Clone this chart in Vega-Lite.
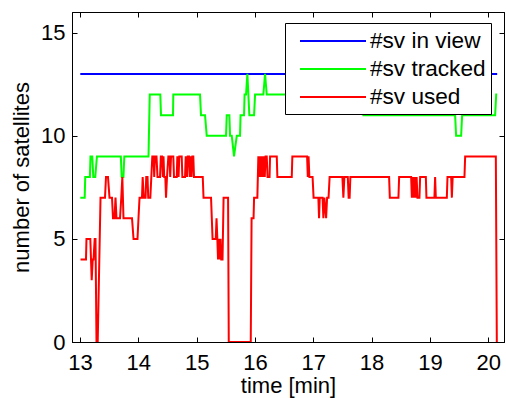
{
"$schema": "https://vega.github.io/schema/vega-lite/v6.json",
"width": 432, "height": 330,
"autosize": {"type": "none"},
"padding": {"left": 72, "top": 12, "right": 2, "bottom": 56},
"background": "white",
"config": {
  "font": "Liberation Sans",
  "view": {"stroke": "black", "strokeWidth": 1},
  "axis": {"grid": false, "labelFontSize": 22, "labelColor": "black", "titleFontSize": 22, "titleFontWeight": "normal", "titleColor": "black", "domainColor": "black", "tickColor": "black", "tickSize": -5, "labelFont": "Liberation Sans", "titleFont": "Liberation Sans", "labelFlush": false, "labelOverlap": false}
},
"datasets": {
"d": [
{"s":"#sv in view","t":13.005,"n":13},{"s":"#sv in view","t":20.153,"n":13},
{"s":"#sv tracked","t":13.005,"n":7},{"s":"#sv tracked","t":13.081,"n":7},{"s":"#sv tracked","t":13.09,"n":8},{"s":"#sv tracked","t":13.17,"n":8},{"s":"#sv tracked","t":13.18,"n":9},{"s":"#sv tracked","t":13.21,"n":9},{"s":"#sv tracked","t":13.228,"n":8},{"s":"#sv tracked","t":13.262,"n":8},{"s":"#sv tracked","t":13.29,"n":9},{"s":"#sv tracked","t":13.70,"n":9},{"s":"#sv tracked","t":13.715,"n":8},{"s":"#sv tracked","t":13.745,"n":8},{"s":"#sv tracked","t":13.76,"n":9},{"s":"#sv tracked","t":14.175,"n":9},{"s":"#sv tracked","t":14.196,"n":12},{"s":"#sv tracked","t":14.377,"n":12},{"s":"#sv tracked","t":14.389,"n":11},{"s":"#sv tracked","t":14.595,"n":11},{"s":"#sv tracked","t":14.600,"n":12},{"s":"#sv tracked","t":15.058,"n":12},{"s":"#sv tracked","t":15.075,"n":11},{"s":"#sv tracked","t":15.144,"n":11},{"s":"#sv tracked","t":15.173,"n":10},{"s":"#sv tracked","t":15.504,"n":10},{"s":"#sv tracked","t":15.516,"n":11},{"s":"#sv tracked","t":15.561,"n":11},{"s":"#sv tracked","t":15.573,"n":10},{"s":"#sv tracked","t":15.602,"n":10},{"s":"#sv tracked","t":15.641,"n":9},{"s":"#sv tracked","t":15.688,"n":10},{"s":"#sv tracked","t":15.744,"n":10},{"s":"#sv tracked","t":15.753,"n":11},{"s":"#sv tracked","t":15.813,"n":11},{"s":"#sv tracked","t":15.822,"n":12},{"s":"#sv tracked","t":15.847,"n":12},{"s":"#sv tracked","t":15.870,"n":13},{"s":"#sv tracked","t":15.904,"n":11},{"s":"#sv tracked","t":15.985,"n":11},{"s":"#sv tracked","t":16.002,"n":12},{"s":"#sv tracked","t":16.144,"n":12},{"s":"#sv tracked","t":16.173,"n":13},{"s":"#sv tracked","t":16.202,"n":12},{"s":"#sv tracked","t":17.837,"n":12},{"s":"#sv tracked","t":17.859,"n":11},{"s":"#sv tracked","t":19.432,"n":11},{"s":"#sv tracked","t":19.449,"n":10},{"s":"#sv tracked","t":19.535,"n":10},{"s":"#sv tracked","t":19.552,"n":11},{"s":"#sv tracked","t":20.118,"n":11},{"s":"#sv tracked","t":20.136,"n":12},{"s":"#sv tracked","t":20.153,"n":12},
{"s":"#sv used","t":13.009,"n":4},{"s":"#sv used","t":13.103,"n":4},{"s":"#sv used","t":13.111,"n":5},{"s":"#sv used","t":13.177,"n":5},{"s":"#sv used","t":13.201,"n":3},{"s":"#sv used","t":13.218,"n":4},{"s":"#sv used","t":13.232,"n":4},{"s":"#sv used","t":13.252,"n":5},{"s":"#sv used","t":13.266,"n":5},{"s":"#sv used","t":13.283,"n":0},{"s":"#sv used","t":13.304,"n":0},{"s":"#sv used","t":13.352,"n":7},{"s":"#sv used","t":13.429,"n":7},{"s":"#sv used","t":13.446,"n":8},{"s":"#sv used","t":13.480,"n":8},{"s":"#sv used","t":13.506,"n":7},{"s":"#sv used","t":13.549,"n":7},{"s":"#sv used","t":13.566,"n":6},{"s":"#sv used","t":13.592,"n":6},{"s":"#sv used","t":13.609,"n":7},{"s":"#sv used","t":13.626,"n":6},{"s":"#sv used","t":13.686,"n":6},{"s":"#sv used","t":13.708,"n":7},{"s":"#sv used","t":13.726,"n":8},{"s":"#sv used","t":13.746,"n":6},{"s":"#sv used","t":13.892,"n":6},{"s":"#sv used","t":13.918,"n":5},{"s":"#sv used","t":13.986,"n":5},{"s":"#sv used","t":14.003,"n":6},{"s":"#sv used","t":14.021,"n":7},{"s":"#sv used","t":14.063,"n":7},{"s":"#sv used","t":14.075,"n":8},{"s":"#sv used","t":14.093,"n":7},{"s":"#sv used","t":14.124,"n":7},{"s":"#sv used","t":14.136,"n":8},{"s":"#sv used","t":14.158,"n":8},{"s":"#sv used","t":14.170,"n":7},{"s":"#sv used","t":14.206,"n":7},{"s":"#sv used","t":14.223,"n":8},{"s":"#sv used","t":14.240,"n":9},{"s":"#sv used","t":14.261,"n":9},{"s":"#sv used","t":14.273,"n":8},{"s":"#sv used","t":14.286,"n":9},{"s":"#sv used","t":14.312,"n":9},{"s":"#sv used","t":14.329,"n":8},{"s":"#sv used","t":14.372,"n":8},{"s":"#sv used","t":14.386,"n":9},{"s":"#sv used","t":14.407,"n":9},{"s":"#sv used","t":14.420,"n":8},{"s":"#sv used","t":14.432,"n":9},{"s":"#sv used","t":14.444,"n":8},{"s":"#sv used","t":14.463,"n":8},{"s":"#sv used","t":14.475,"n":7},{"s":"#sv used","t":14.492,"n":8},{"s":"#sv used","t":14.515,"n":9},{"s":"#sv used","t":14.535,"n":9},{"s":"#sv used","t":14.547,"n":8},{"s":"#sv used","t":14.561,"n":9},{"s":"#sv used","t":14.600,"n":9},{"s":"#sv used","t":14.612,"n":8},{"s":"#sv used","t":14.659,"n":8},{"s":"#sv used","t":14.669,"n":9},{"s":"#sv used","t":14.690,"n":8},{"s":"#sv used","t":14.703,"n":9},{"s":"#sv used","t":14.744,"n":9},{"s":"#sv used","t":14.755,"n":8},{"s":"#sv used","t":14.801,"n":8},{"s":"#sv used","t":14.813,"n":9},{"s":"#sv used","t":14.835,"n":8},{"s":"#sv used","t":14.847,"n":9},{"s":"#sv used","t":14.870,"n":9},{"s":"#sv used","t":14.882,"n":8},{"s":"#sv used","t":14.895,"n":9},{"s":"#sv used","t":14.913,"n":8},{"s":"#sv used","t":14.926,"n":9},{"s":"#sv used","t":14.943,"n":9},{"s":"#sv used","t":14.955,"n":8},{"s":"#sv used","t":15.105,"n":8},{"s":"#sv used","t":15.118,"n":7},{"s":"#sv used","t":15.247,"n":7},{"s":"#sv used","t":15.273,"n":5},{"s":"#sv used","t":15.328,"n":5},{"s":"#sv used","t":15.341,"n":6},{"s":"#sv used","t":15.355,"n":5},{"s":"#sv used","t":15.367,"n":4},{"s":"#sv used","t":15.384,"n":5},{"s":"#sv used","t":15.396,"n":4},{"s":"#sv used","t":15.410,"n":5},{"s":"#sv used","t":15.422,"n":4},{"s":"#sv used","t":15.444,"n":4},{"s":"#sv used","t":15.462,"n":7},{"s":"#sv used","t":15.539,"n":7},{"s":"#sv used","t":15.551,"n":0},{"s":"#sv used","t":15.928,"n":0},{"s":"#sv used","t":15.942,"n":6},{"s":"#sv used","t":15.976,"n":6},{"s":"#sv used","t":15.985,"n":7},{"s":"#sv used","t":16.041,"n":7},{"s":"#sv used","t":16.058,"n":9},{"s":"#sv used","t":16.079,"n":8},{"s":"#sv used","t":16.093,"n":9},{"s":"#sv used","t":16.110,"n":8},{"s":"#sv used","t":16.122,"n":9},{"s":"#sv used","t":16.139,"n":8},{"s":"#sv used","t":16.151,"n":9},{"s":"#sv used","t":16.168,"n":8},{"s":"#sv used","t":16.182,"n":9},{"s":"#sv used","t":16.202,"n":9},{"s":"#sv used","t":16.216,"n":8},{"s":"#sv used","t":16.250,"n":8},{"s":"#sv used","t":16.259,"n":9},{"s":"#sv used","t":16.374,"n":9},{"s":"#sv used","t":16.384,"n":8},{"s":"#sv used","t":16.631,"n":8},{"s":"#sv used","t":16.641,"n":9},{"s":"#sv used","t":16.894,"n":9},{"s":"#sv used","t":16.906,"n":8},{"s":"#sv used","t":16.919,"n":9},{"s":"#sv used","t":16.933,"n":8},{"s":"#sv used","t":16.988,"n":8},{"s":"#sv used","t":17.005,"n":7},{"s":"#sv used","t":17.087,"n":7},{"s":"#sv used","t":17.099,"n":6},{"s":"#sv used","t":17.111,"n":7},{"s":"#sv used","t":17.159,"n":7},{"s":"#sv used","t":17.173,"n":6},{"s":"#sv used","t":17.190,"n":7},{"s":"#sv used","t":17.220,"n":6},{"s":"#sv used","t":17.237,"n":7},{"s":"#sv used","t":17.262,"n":7},{"s":"#sv used","t":17.280,"n":8},{"s":"#sv used","t":17.499,"n":8},{"s":"#sv used","t":17.516,"n":7},{"s":"#sv used","t":17.533,"n":8},{"s":"#sv used","t":17.592,"n":8},{"s":"#sv used","t":17.606,"n":7},{"s":"#sv used","t":17.623,"n":7},{"s":"#sv used","t":17.636,"n":8},{"s":"#sv used","t":18.300,"n":8},{"s":"#sv used","t":18.312,"n":7},{"s":"#sv used","t":18.460,"n":7},{"s":"#sv used","t":18.472,"n":8},{"s":"#sv used","t":18.678,"n":8},{"s":"#sv used","t":18.690,"n":7},{"s":"#sv used","t":18.707,"n":8},{"s":"#sv used","t":18.720,"n":7},{"s":"#sv used","t":18.738,"n":8},{"s":"#sv used","t":18.755,"n":7},{"s":"#sv used","t":18.772,"n":8},{"s":"#sv used","t":18.786,"n":7},{"s":"#sv used","t":18.820,"n":7},{"s":"#sv used","t":18.832,"n":8},{"s":"#sv used","t":18.930,"n":8},{"s":"#sv used","t":18.940,"n":7},{"s":"#sv used","t":19.077,"n":7},{"s":"#sv used","t":19.089,"n":8},{"s":"#sv used","t":19.101,"n":7},{"s":"#sv used","t":19.290,"n":7},{"s":"#sv used","t":19.301,"n":8},{"s":"#sv used","t":19.364,"n":8},{"s":"#sv used","t":19.376,"n":7},{"s":"#sv used","t":19.390,"n":8},{"s":"#sv used","t":19.592,"n":8},{"s":"#sv used","t":19.604,"n":9},{"s":"#sv used","t":20.130,"n":9},{"s":"#sv used","t":20.147,"n":0}
]
},
"data": {"name": "d"},
"layer": [
  {
    "mark": {"type": "line", "strokeWidth": 2, "clip": true},
    "encoding": {
      "x": {"field": "t", "type": "quantitative", "scale": {"domain": [12.863, 20.27], "nice": false, "zero": false},
            "axis": {"orient": "bottom", "values": [13,14,15,16,17,18,19,20], "labelPadding": 15, "title": "time [min]", "titlePadding": 2}},
      "y": {"field": "n", "type": "quantitative", "scale": {"domain": [0, 16], "nice": false, "zero": false},
            "axis": {"orient": "left", "values": [0,5,10,15], "labelPadding": 12, "title": "number of satellites", "titlePadding": 7}},
      "color": {"field": "s", "type": "nominal",
        "scale": {"domain": ["#sv in view", "#sv tracked", "#sv used"], "range": ["#0000ff", "#00ff00", "#ff0000"]},
        "legend": {"orient": "none", "legendX": 213, "legendY": 11, "title": null, "symbolType": "M-2.75,0H2.75", "symbolSize": 576, "symbolStrokeWidth": 2, "labelFontSize": 22.6, "labelFont": "Liberation Sans", "labelColor": "black", "strokeColor": "black", "fillColor": "white", "padding": 5, "rowPadding": 3, "labelOffset": 24, "symbolOffset": 30, "labelLimit": 400, "cornerRadius": 0}}
    }
  },
  {
    "mark": {"type": "line", "opacity": 0},
    "encoding": {
      "x": {"field": "t", "type": "quantitative", "axis": {"orient": "top", "values": [13,14,15,16,17,18,19,20], "labels": false, "title": null}},
      "y": {"field": "n", "type": "quantitative", "axis": {"orient": "right", "values": [0,5,10,15], "labels": false, "title": null}},
      "detail": {"field": "s"}
    }
  }
],
"resolve": {"axis": {"x": "independent", "y": "independent"}}
}
